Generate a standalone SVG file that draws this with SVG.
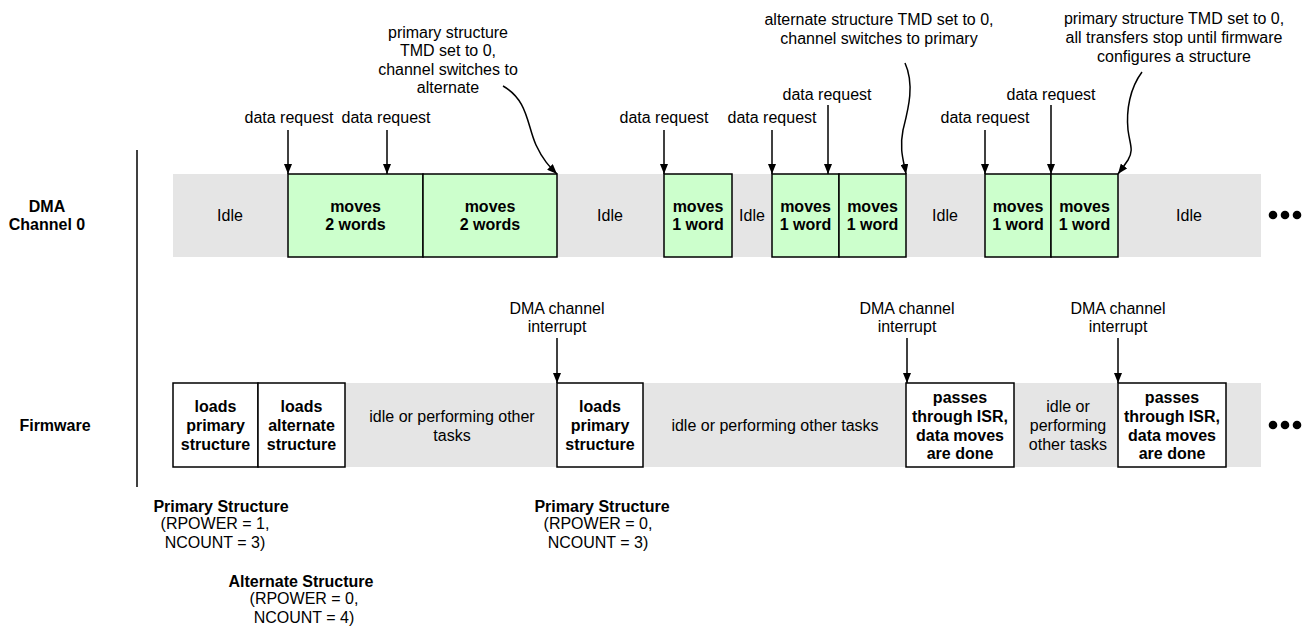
<svg xmlns="http://www.w3.org/2000/svg" width="1302" height="630" viewBox="0 0 1302 630">
<style>
text{font-family:"Liberation Sans",Arial,sans-serif;font-size:16px;fill:#000;text-anchor:middle}
.b{font-weight:bold}
.band{fill:#e5e5e5;stroke:none}
.g{fill:#ccffcc;stroke:#000;stroke-width:1.5}
.w{fill:#fff;stroke:#000;stroke-width:1.5}
.ln{fill:none;stroke:#000;stroke-width:1.5}
</style>
<defs>
<marker id="ah" viewBox="0 0 10 8" refX="10" refY="4" markerWidth="10" markerHeight="8" markerUnits="userSpaceOnUse" orient="auto">
<path d="M0,0 L10,4 L0,8 Z" fill="#000"/>
</marker>
</defs>

<g id="labels">
<text class="b" x="47" y="212">DMA</text>
<text class="b" x="47" y="230">Channel 0</text>
<text class="b" x="55" y="431">Firmware</text>
</g>
<line id="axis" x1="137" y1="150" x2="137" y2="487" class="ln"/>

<g id="dma-band"><rect class="band" x="173" y="174" width="1088" height="83"/></g>
<g id="dma-idle-1"><text x="230" y="221">Idle</text></g>
<g id="dma-move-1"><rect class="g" x="288" y="174" width="135" height="83"/><text class="b" x="355.5" y="212">moves</text><text class="b" x="355.5" y="230">2 words</text></g>
<g id="dma-move-2"><rect class="g" x="423" y="174" width="134" height="83"/><text class="b" x="490" y="212">moves</text><text class="b" x="490" y="230">2 words</text></g>
<g id="dma-idle-2"><text x="610" y="221">Idle</text></g>
<g id="dma-move-3"><rect class="g" x="664" y="174" width="68" height="83"/><text class="b" x="698" y="212">moves</text><text class="b" x="698" y="230">1 word</text></g>
<g id="dma-idle-3"><text x="752" y="221">Idle</text></g>
<g id="dma-move-4"><rect class="g" x="772" y="174" width="67" height="83"/><text class="b" x="805.5" y="212">moves</text><text class="b" x="805.5" y="230">1 word</text></g>
<g id="dma-move-5"><rect class="g" x="839" y="174" width="67" height="83"/><text class="b" x="872.5" y="212">moves</text><text class="b" x="872.5" y="230">1 word</text></g>
<g id="dma-idle-4"><text x="945" y="221">Idle</text></g>
<g id="dma-move-6"><rect class="g" x="985" y="174" width="66" height="83"/><text class="b" x="1018" y="212">moves</text><text class="b" x="1018" y="230">1 word</text></g>
<g id="dma-move-7"><rect class="g" x="1051" y="174" width="67" height="83"/><text class="b" x="1084.5" y="212">moves</text><text class="b" x="1084.5" y="230">1 word</text></g>
<g id="dma-idle-5"><text x="1189" y="221">Idle</text></g>
<g id="dma-more"><circle cx="1273" cy="215" r="4.3"/><circle cx="1285" cy="215" r="4.3"/><circle cx="1297" cy="215" r="4.3"/></g>

<g id="fw-band"><rect class="band" x="173" y="383" width="1088" height="84"/></g>
<g id="fw-load-primary"><rect class="w" x="173" y="383" width="85" height="84"/><text class="b" x="215.5" y="412">loads</text><text class="b" x="215.5" y="431">primary</text><text class="b" x="215.5" y="450">structure</text></g>
<g id="fw-load-alternate"><rect class="w" x="258" y="383" width="87" height="84"/><text class="b" x="301.5" y="412">loads</text><text class="b" x="301.5" y="431">alternate</text><text class="b" x="301.5" y="450">structure</text></g>
<g id="fw-idle-1"><text x="452" y="422">idle or performing other</text><text x="452" y="441">tasks</text></g>
<g id="fw-load-primary-2"><rect class="w" x="557" y="383" width="86" height="84"/><text class="b" x="600" y="412">loads</text><text class="b" x="600" y="431">primary</text><text class="b" x="600" y="450">structure</text></g>
<g id="fw-idle-2"><text x="775" y="431">idle or performing other tasks</text></g>
<g id="fw-isr-1"><rect class="w" x="906" y="383" width="108" height="84"/><text class="b" x="960" y="403">passes</text><text class="b" x="960" y="422">through ISR,</text><text class="b" x="960" y="440.5">data moves</text><text class="b" x="960" y="459">are done</text></g>
<g id="fw-idle-3"><text x="1068" y="412">idle or</text><text x="1068" y="431">performing</text><text x="1068" y="450">other tasks</text></g>
<g id="fw-isr-2"><rect class="w" x="1118" y="383" width="108" height="84"/><text class="b" x="1172" y="403">passes</text><text class="b" x="1172" y="422">through ISR,</text><text class="b" x="1172" y="440.5">data moves</text><text class="b" x="1172" y="459">are done</text></g>
<g id="fw-more"><circle cx="1273" cy="425" r="4.3"/><circle cx="1285" cy="425" r="4.3"/><circle cx="1297" cy="425" r="4.3"/></g>

<g id="annotations">
<text x="289" y="123">data request</text>
<text x="386" y="123">data request</text>
<text x="664" y="123">data request</text>
<text x="772" y="123">data request</text>
<text x="827" y="100">data request</text>
<text x="985" y="123">data request</text>
<text x="1051" y="100">data request</text>
<text x="448" y="37.5">primary structure</text>
<text x="448" y="56">TMD set to 0,</text>
<text x="448" y="74.5">channel switches to</text>
<text x="448" y="93">alternate</text>
<text x="879" y="25">alternate structure TMD set to 0,</text>
<text x="879" y="43.5">channel switches to primary</text>
<text x="1174" y="24">primary structure TMD set to 0,</text>
<text x="1174" y="43">all transfers stop until firmware</text>
<text x="1174" y="62">configures a structure</text>
<text x="557" y="314">DMA channel</text>
<text x="557" y="332">interrupt</text>
<text x="907" y="314">DMA channel</text>
<text x="907" y="332">interrupt</text>
<text x="1118" y="314">DMA channel</text>
<text x="1118" y="332">interrupt</text>
<text class="b" x="221" y="512">Primary Structure</text>
<text x="215" y="529">(RPOWER = 1,</text>
<text x="215" y="548">NCOUNT = 3)</text>
<text class="b" x="301" y="587">Alternate Structure</text>
<text x="304" y="604">(RPOWER = 0,</text>
<text x="304" y="623">NCOUNT = 4)</text>
<text class="b" x="602" y="512">Primary Structure</text>
<text x="598" y="529">(RPOWER = 0,</text>
<text x="598" y="548">NCOUNT = 3)</text>
</g>

<g id="connectors" class="ln" marker-end="url(#ah)">
<line x1="288" y1="130" x2="288" y2="174" class="ln" marker-end="url(#ah)"/>
<line x1="387" y1="130" x2="387" y2="174" class="ln" marker-end="url(#ah)"/>
<line x1="664" y1="130" x2="664" y2="174" class="ln" marker-end="url(#ah)"/>
<line x1="772" y1="130" x2="772" y2="174" class="ln" marker-end="url(#ah)"/>
<line x1="828" y1="105" x2="828" y2="174" class="ln" marker-end="url(#ah)"/>
<line x1="985" y1="130" x2="985" y2="174" class="ln" marker-end="url(#ah)"/>
<line x1="1051" y1="105" x2="1051" y2="174" class="ln" marker-end="url(#ah)"/>
<path d="M503,86 C528,100 527,125 536,145 C543,160 549,166 557,174" class="ln" marker-end="url(#ah)"/>
<path d="M905,63 C915,85 908,110 903,130 C899,150 904,162 906,174" class="ln" marker-end="url(#ah)"/>
<path d="M1142,72 C1130,88 1126,110 1128,130 C1130,145 1134,150 1128,160 C1124,166 1121,170 1118,174" class="ln" marker-end="url(#ah)"/>
<line x1="557" y1="338" x2="557" y2="383" class="ln" marker-end="url(#ah)"/>
<line x1="907" y1="338" x2="907" y2="383" class="ln" marker-end="url(#ah)"/>
<line x1="1118" y1="338" x2="1118" y2="383" class="ln" marker-end="url(#ah)"/>
</g>
</svg>
